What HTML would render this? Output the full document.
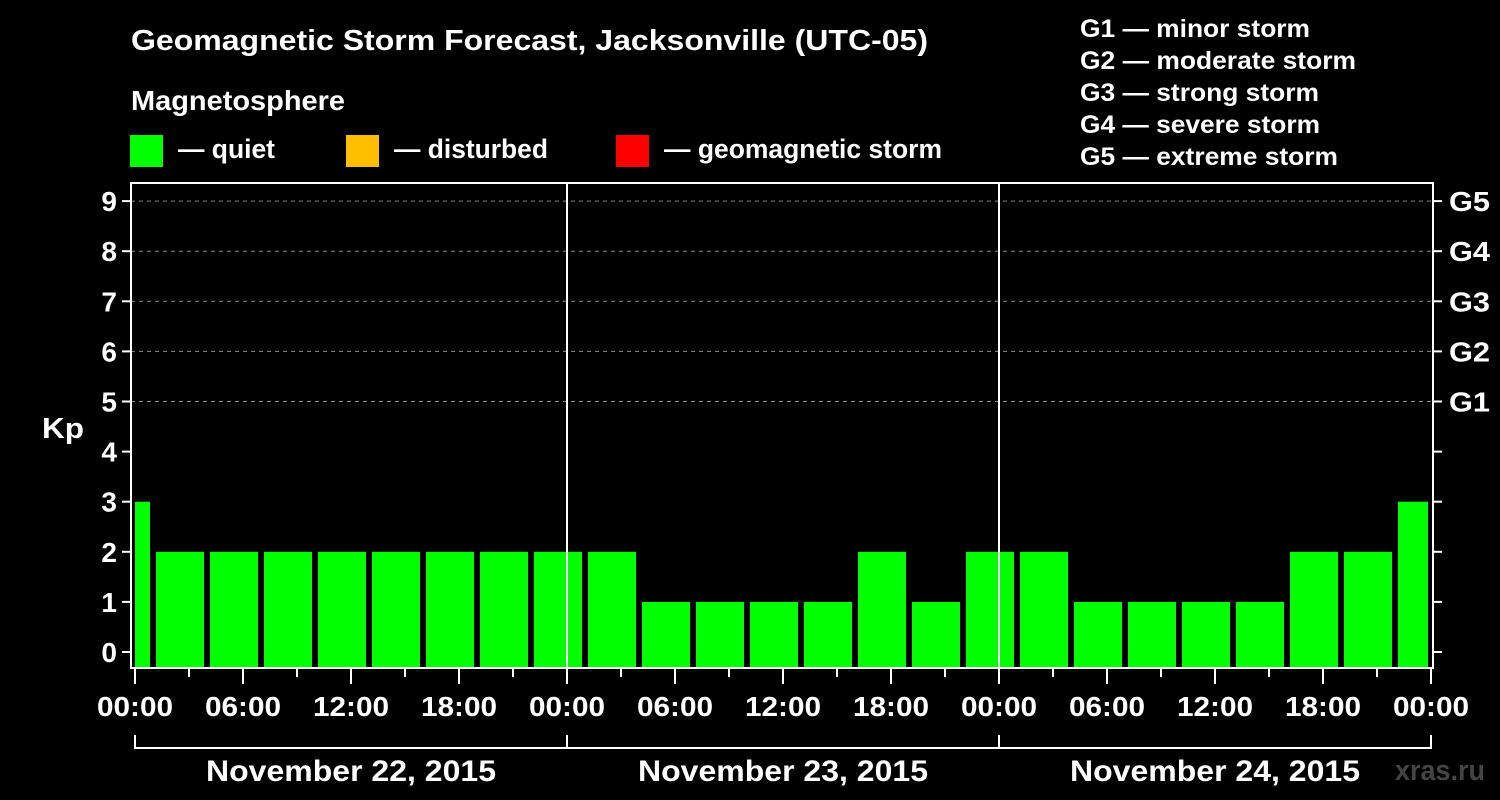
<!DOCTYPE html>
<html><head><meta charset="utf-8"><style>
html,body{margin:0;padding:0;background:#000;}
svg{display:block;font-family:"Liberation Sans",sans-serif;font-weight:bold;}
</style></head><body>
<svg id="chart" width="1500" height="800" viewBox="0 0 1500 800" xmlns="http://www.w3.org/2000/svg">
<rect width="1500" height="800" fill="#000"/>
<text x="131" y="50" fill="#fff" font-size="29" textLength="797" lengthAdjust="spacingAndGlyphs">Geomagnetic Storm Forecast, Jacksonville (UTC-05)</text>
<text x="131" y="110" fill="#fff" font-size="28" textLength="214" lengthAdjust="spacingAndGlyphs">Magnetosphere</text>
<g><rect x="130" y="135" width="33" height="32" fill="#00ff00"/><text x="178" y="158" fill="#fff" font-size="27" textLength="97" lengthAdjust="spacingAndGlyphs">— quiet</text></g>
<g><rect x="346" y="135" width="33" height="32" fill="#ffbf00"/><text x="394" y="158" fill="#fff" font-size="27" textLength="154" lengthAdjust="spacingAndGlyphs">— disturbed</text></g>
<g><rect x="616" y="135" width="33" height="32" fill="#ff0000"/><text x="664" y="158" fill="#fff" font-size="27" textLength="278" lengthAdjust="spacingAndGlyphs">— geomagnetic storm</text></g>
<g fill="#fff" font-size="25">
<text x="1080" y="37" textLength="230" lengthAdjust="spacingAndGlyphs">G1 — minor storm</text>
<text x="1080" y="69" textLength="276" lengthAdjust="spacingAndGlyphs">G2 — moderate storm</text>
<text x="1080" y="101" textLength="239" lengthAdjust="spacingAndGlyphs">G3 — strong storm</text>
<text x="1080" y="133" textLength="240" lengthAdjust="spacingAndGlyphs">G4 — severe storm</text>
<text x="1080" y="165" textLength="258" lengthAdjust="spacingAndGlyphs">G5 — extreme storm</text>
</g>
<text x="42" y="438" fill="#fff" font-size="29" textLength="42" lengthAdjust="spacingAndGlyphs">Kp</text>
<g id="grid"></g><g id="bars"></g><g id="axes"></g>
<text x="1395" y="780" fill="#444" font-size="29" textLength="90" lengthAdjust="spacingAndGlyphs">xras.ru</text>
</svg>
<script>
const kpValues=[3,2,2,2,2,2,2,2,2,2,1,1,1,1,2,1,2,2,1,1,1,1,2,2,3];
const slotStartHours=[-2,1,4,7,10,13,16,19,22,25,28,31,34,37,40,43,46,49,52,55,58,61,64,67,70];
const yTicks=[0,1,2,3,4,5,6,7,8,9];
const gLabels=["G1","G2","G3","G4","G5"];
const gLevels=[5,6,7,8,9];
const xTickLabels=["00:00","06:00","12:00","18:00","00:00","06:00","12:00","18:00","00:00","06:00","12:00","18:00","00:00"];
const dateLabels=["November 22, 2015","November 23, 2015","November 24, 2015"];
const NS="http://www.w3.org/2000/svg";
const L=131,R=1433,T=183,B=668;
const x=h=>135+h*18;
const y=v=>652-v*50.1;
function mk(tag,attrs,parent,text){const e=document.createElementNS(NS,tag);for(const k in attrs)e.setAttribute(k,attrs[k]);if(text!==undefined)e.textContent=text;document.getElementById(parent).appendChild(e);return e;}
yTicks.forEach(v=>{
 if(v>=5){const g=mk('line',{x1:L,x2:R,y1:y(v),y2:y(v),stroke:'#888','stroke-dasharray':'4,4','stroke-width':1},'grid');
 
 }
 const t=mk('line',{x1:L-9,x2:L,y1:y(v),y2:y(v),stroke:'#fff','stroke-width':2},'axes');
 
 
 const t2=mk('line',{x1:R,x2:R+9,y1:y(v),y2:y(v),stroke:'#fff','stroke-width':2},'axes');
 
 
 const lb=mk('text',{x:117,y:y(v)+10,fill:'#fff','font-size':28,'text-anchor':'end'},'axes',String(v));
 
 
});
gLabels.forEach((s,i)=>{
 const lb=mk('text',{x:1449,y:y(gLevels[i])+10,fill:'#fff','font-size':28,textLength:41,lengthAdjust:'spacingAndGlyphs'},'axes',s);
 
 
});
kpValues.forEach((v,i)=>{
 const s=Math.max(0,slotStartHours[i]),e=Math.min(72,slotStartHours[i]+3);
 const x0=x(s)+(slotStartHours[i]<0?0:3),x1=x(e)-3;
 const col=v>=5?'#ff0000':(v>=4?'#ffbf00':'#00ff00');
 const b=mk('rect',{x:x0,y:y(v),width:x1-x0,height:B-y(v),fill:col},'bars');
 
 
});
[24,48].forEach(h=>{const l=mk('line',{x1:x(h),x2:x(h),y1:T,y2:B,stroke:'#fff','stroke-width':2},'axes');
 
 });
const frame=mk('rect',{x:L,y:T,width:R-L,height:B-T,fill:'none',stroke:'#fff','stroke-width':2},'axes');


for(let h=0;h<=72;h+=3){
 const major=h%6===0;
 const t=mk('line',{x1:x(h),x2:x(h),y1:B,y2:B+(major?16:9),stroke:'#fff','stroke-width':2},'axes');
 
 
}
xTickLabels.forEach((s,i)=>{
 const lb=mk('text',{x:x(i*6),y:716,fill:'#fff','font-size':28,'text-anchor':'middle',textLength:76,lengthAdjust:'spacingAndGlyphs'},'axes',s);
 
 
});
dateLabels.forEach((s,i)=>{
 const p=mk('path',{d:`M${x(i*24)},735V748H${x(i*24+24)}V735`,stroke:'#fff','stroke-width':2,fill:'none'},'axes');
 
 
 const lb=mk('text',{x:x(i*24+12),y:781,fill:'#fff','font-size':30,'text-anchor':'middle',textLength:290,lengthAdjust:'spacingAndGlyphs'},'axes',s);
 
 
});
</script>
</body></html>
